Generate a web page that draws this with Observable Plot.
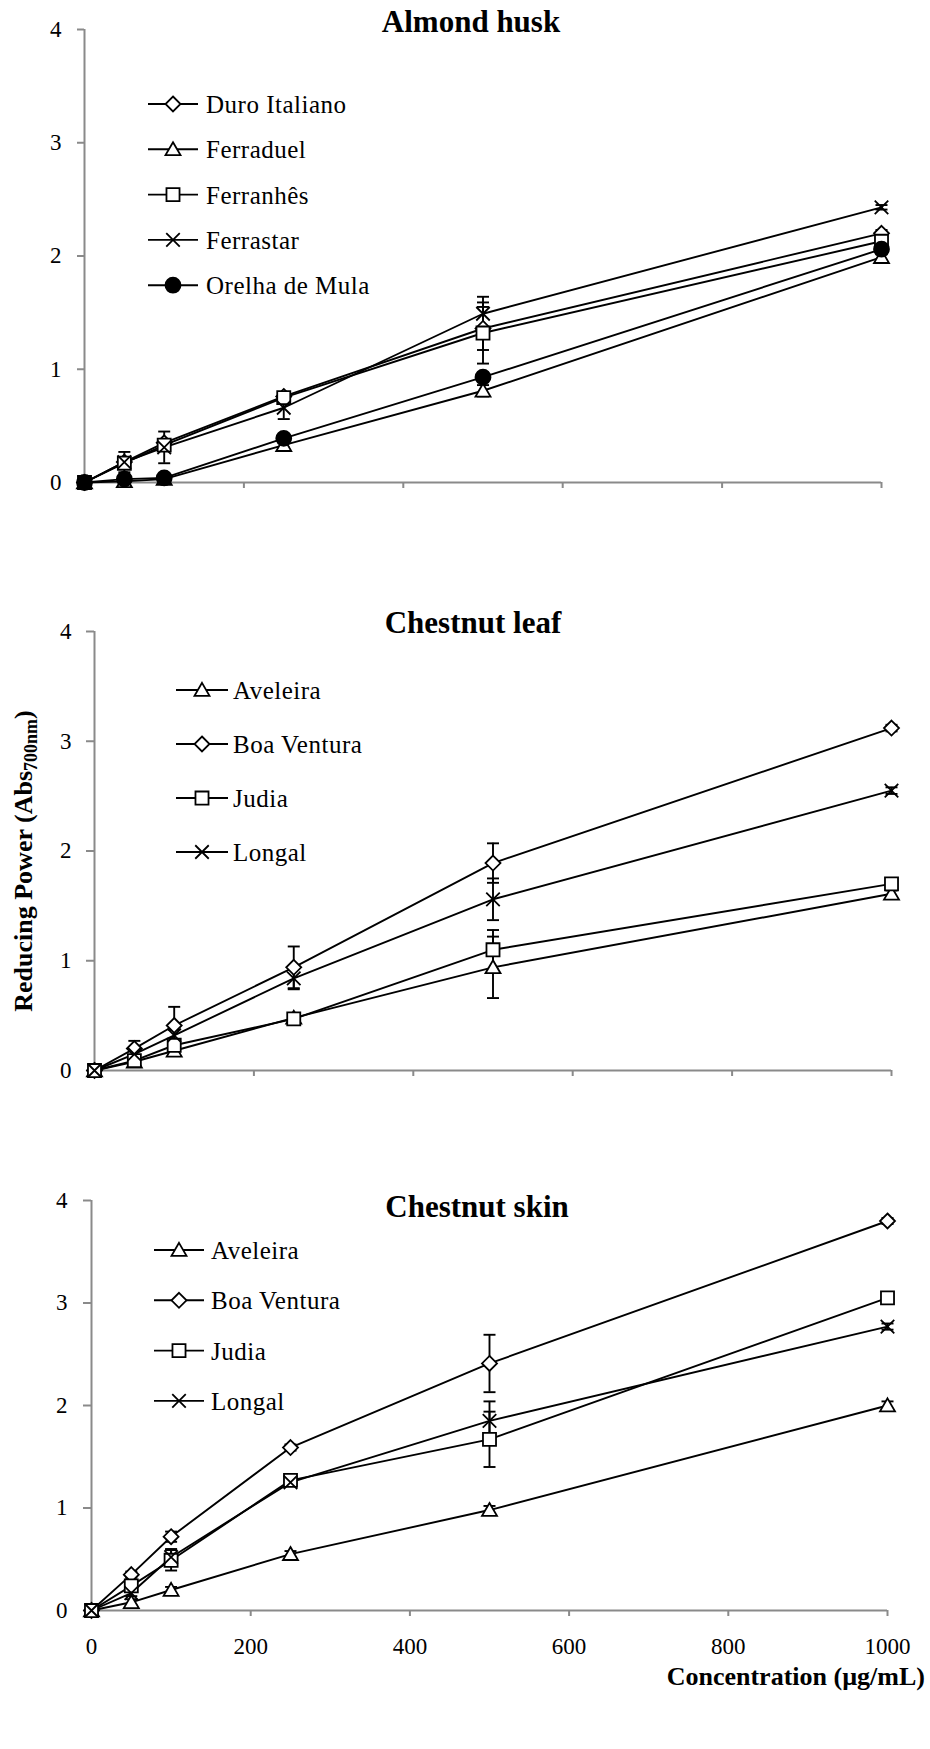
<!DOCTYPE html>
<html><head><meta charset="utf-8">
<script src="https://cdn.jsdelivr.net/npm/d3@7"></script>
<script src="https://cdn.jsdelivr.net/npm/@observablehq/plot@0.6"></script>
<style>
body{margin:0;background:#fff;}
#page{position:relative;width:930px;height:1749px;background:#fff;overflow:hidden;}
.panel{position:absolute;left:0;}
#overlay{position:absolute;left:0;top:0;pointer-events:none;}
#overlay text{font-family:"Liberation Serif","Times New Roman",serif;}
</style></head><body><div id="page"></div>
<script>
// ---------- data ----------
const conc = [0, 50, 100, 250, 500, 1000];
const xTicks = [0, 200, 400, 600, 800, 1000];
const yTicks = [0, 1, 2, 3, 4];

// Almond husk
const almondTitle = "Almond husk";
const almondNames = ["Duro Italiano", "Ferraduel", "Ferranhês", "Ferrastar", "Orelha de Mula"];
const almondDuroItaliano   = [0, 0.18, 0.35, 0.76, 1.36, 2.20];
const almondDuroItalianoSD = [0, 0.02, 0.03, 0.03, 0.19, 0.03];
const almondFerraduel      = [0, 0.01, 0.03, 0.33, 0.81, 1.99];
const almondFerraduelSD    = [0, 0.01, 0.01, 0.02, 0.05, 0.03];
const almondFerranhes      = [0, 0.17, 0.33, 0.75, 1.32, 2.13];
const almondFerranhesSD    = [0, 0.04, 0.04, 0.03, 0.27, 0.03];
const almondFerrastar      = [0, 0.18, 0.31, 0.66, 1.49, 2.43];
const almondFerrastarSD    = [0, 0.09, 0.14, 0.10, 0.15, 0.02];
const almondOrelha         = [0, 0.03, 0.04, 0.39, 0.93, 2.06];
const almondOrelhaSD       = [0, 0.01, 0.01, 0.02, 0.03, 0.03];

// Chestnut leaf
const leafTitle = "Chestnut leaf";
const leafNames = ["Aveleira", "Boa Ventura", "Judia", "Longal"];
const leafAveleira     = [0, 0.08, 0.18, 0.48, 0.94, 1.61];
const leafAveleiraSD   = [0, 0.01, 0.02, 0.03, 0.28, 0.03];
const leafBoaVentura   = [0, 0.20, 0.41, 0.94, 1.89, 3.12];
const leafBoaVenturaSD = [0, 0.07, 0.17, 0.19, 0.18, 0.03];
const leafJudia        = [0, 0.09, 0.23, 0.47, 1.10, 1.70];
const leafJudiaSD      = [0, 0.02, 0.04, 0.03, 0.18, 0.03];
const leafLongal       = [0, 0.15, 0.32, 0.84, 1.56, 2.55];
const leafLongalSD     = [0, 0.04, 0.05, 0.10, 0.19, 0.03];

// Chestnut skin
const skinTitle = "Chestnut skin";
const skinNames = ["Aveleira", "Boa Ventura", "Judia", "Longal"];
const skinAveleira     = [0, 0.08, 0.20, 0.55, 0.98, 2.00];
const skinAveleiraSD   = [0, 0.03, 0.03, 0.03, 0.04, 0.04];
const skinBoaVentura   = [0, 0.35, 0.72, 1.59, 2.41, 3.80];
const skinBoaVenturaSD = [0, 0.03, 0.05, 0.03, 0.28, 0.03];
const skinJudia        = [0, 0.24, 0.49, 1.27, 1.67, 3.05];
const skinJudiaSD      = [0, 0.03, 0.10, 0.04, 0.27, 0.05];
const skinLongal       = [0, 0.17, 0.52, 1.25, 1.85, 2.77];
const skinLongalSD     = [0, 0.03, 0.08, 0.03, 0.19, 0.03];

const yLabelMain = "Reducing Power (Abs";
const yLabelSub = "700nm";
const yLabelEnd = ")";
const xLabel = "Concentration (µg/mL)";

// ---------- symbols ----------
const rad = size => Math.sqrt(size / Math.PI);
const symDiamond = {draw(c, s){const r = rad(s); c.moveTo(0,-r); c.lineTo(r,0); c.lineTo(0,r); c.lineTo(-r,0); c.closePath();}};
const symSquare = {draw(c, s){const r = rad(s)*0.87; c.moveTo(-r,-r); c.lineTo(r,-r); c.lineTo(r,r); c.lineTo(-r,r); c.closePath();}};
const symTriangle = {draw(c, s){const r = rad(s); c.moveTo(0,-r*0.95); c.lineTo(r,r*0.78); c.lineTo(-r,r*0.78); c.closePath();}};
const symTimes = {draw(c, s){const r = rad(s)*0.9; c.moveTo(-r,-r); c.lineTo(r,r); c.moveTo(r,-r); c.lineTo(-r,r);}};
const symCircle = {draw(c, s){const r = rad(s); c.moveTo(r,0); c.arc(0,0,r,0,2*Math.PI); c.closePath();}};
const symCap = {draw(c, s){const r = rad(s); c.moveTo(-r,0); c.lineTo(r,0);}};

const styleOf = {
  "Duro Italiano": {symbol: symDiamond, fill: "white"},
  "Ferraduel": {symbol: symTriangle, fill: "white"},
  "Ferranhês": {symbol: symSquare, fill: "white"},
  "Ferrastar": {symbol: symTimes, fill: "none"},
  "Orelha de Mula": {symbol: symCircle, fill: "black"},
  "Aveleira": {symbol: symTriangle, fill: "white"},
  "Boa Ventura": {symbol: symDiamond, fill: "white"},
  "Judia": {symbol: symSquare, fill: "white"},
  "Longal": {symbol: symTimes, fill: "none"}
};

const panels = [
  {title: almondTitle, names: almondNames,
   values: [almondDuroItaliano, almondFerraduel, almondFerranhes, almondFerrastar, almondOrelha],
   sds: [almondDuroItalianoSD, almondFerraduelSD, almondFerranhesSD, almondFerrastarSD, almondOrelhaSD],
   top: 0, height: 500, mt: 29, mb: 18, ml: 84, mr: 49, ytick: 7, ypad: 16, xlabels: false,
   titleX: 471, titleY: 32,
   leg: {x0: 148, x1: 198, tx: 206, y0: 104, dy: 45.3}},
  {title: leafTitle, names: leafNames,
   values: [leafAveleira, leafBoaVentura, leafJudia, leafLongal],
   sds: [leafAveleiraSD, leafBoaVenturaSD, leafJudiaSD, leafLongalSD],
   top: 600, height: 488, mt: 31, mb: 18, ml: 94, mr: 39, ytick: 8, ypad: 15, xlabels: false,
   titleX: 473, titleY: 633,
   leg: {x0: 176, x1: 228, tx: 233, y0: 690, dy: 54}},
  {title: skinTitle, names: skinNames,
   values: [skinAveleira, skinBoaVentura, skinJudia, skinLongal],
   sds: [skinAveleiraSD, skinBoaVenturaSD, skinJudiaSD, skinLongalSD],
   top: 1170, height: 579, mt: 30, mb: 139, ml: 91, mr: 43, ytick: 8, ypad: 16, xlabels: true,
   titleX: 477, titleY: 1217,
   leg: {x0: 154, x1: 204, tx: 211, y0: 1250, dy: 50.3}}
];

const gray = "#8a8a8a";
const FONT = "'Liberation Serif', 'Times New Roman', serif";
const page = document.getElementById("page");

for (const p of panels) {
  const rows = [];
  p.names.forEach((n, k) => p.values[k].forEach((v, i) => rows.push({series: n, x: conc[i], y: v, sd: p.sds[k][i]})));
  const err = rows.filter(d => d.sd > 0);
  const marks = [
    Plot.ruleY([0], {stroke: gray, strokeWidth: 2}),
    Plot.ruleX([0], {stroke: gray, strokeWidth: 2}),
    Plot.axisY({ticks: yTicks, tickSize: p.ytick, tickPadding: p.ypad, stroke: gray, strokeWidth: 2, color: "black", fill: "black", fontSize: 23, label: null, tickFormat: d => String(d)}),
    Plot.axisX({ticks: xTicks, tickSize: 6, tickPadding: 21, stroke: gray, strokeWidth: 2, color: "black", fill: "black", fontSize: 23, label: null, tickFormat: p.xlabels ? (d => String(d)) : (() => "")}),
    Plot.line(rows, {x: "x", y: "y", z: "series", stroke: "black", strokeWidth: 1.9}),
    Plot.ruleX(err, {x: "x", y1: d => d.y - d.sd, y2: d => d.y + d.sd, stroke: "black", strokeWidth: 1.9}),
    Plot.dot(err, {x: "x", y: d => d.y + d.sd, symbol: symCap, r: 6, stroke: "black", strokeWidth: 1.9}),
    Plot.dot(err, {x: "x", y: d => d.y - d.sd, symbol: symCap, r: 6, stroke: "black", strokeWidth: 1.9}),
    ...p.names.map(n => Plot.dot(rows.filter(d => d.series === n), {x: "x", y: "y", symbol: styleOf[n].symbol, r: 7.5, fill: styleOf[n].fill, stroke: "black", strokeWidth: 1.8}))
  ];
  const chart = Plot.plot({
    width: 930, height: p.height,
    marginTop: p.mt, marginBottom: p.mb, marginLeft: p.ml, marginRight: p.mr,
    x: {domain: [0, 1000]}, y: {domain: [0, 4]},
    style: {fontFamily: FONT, fontSize: "23px", background: "transparent", overflow: "visible", color: "black"},
    marks
  });
  chart.classList.add("panel");
  chart.style.top = p.top + "px";
  page.appendChild(chart);
}

// ---------- overlay: titles, axis labels, legends ----------
const ov = d3.select(page).append("svg").attr("id", "overlay").attr("width", 930).attr("height", 1749)
  .attr("font-family", FONT);

for (const p of panels) {
  ov.append("text").attr("x", p.titleX).attr("y", p.titleY).attr("text-anchor", "middle")
    .attr("font-family", FONT).attr("font-weight", "bold").attr("font-size", 31).text(p.title);
  p.names.forEach((n, i) => {
    const y = p.leg.y0 + i * p.leg.dy;
    const g = ov.append("g");
    g.append("line").attr("x1", p.leg.x0).attr("x2", p.leg.x1).attr("y1", y).attr("y2", y)
      .attr("stroke", "black").attr("stroke-width", 1.9);
    g.append("path").attr("transform", `translate(${(p.leg.x0 + p.leg.x1) / 2},${y})`)
      .attr("d", d3.symbol(styleOf[n].symbol, Math.PI * 7.5 * 7.5)())
      .attr("fill", styleOf[n].fill).attr("stroke", "black").attr("stroke-width", 1.8);
    g.append("text").attr("x", p.leg.tx).attr("y", y + 9).attr("font-family", FONT)
      .attr("font-size", 25).attr("letter-spacing", 0.5).text(n);
  });
}

const yl = ov.append("text").attr("transform", "translate(32,861) rotate(-90)")
  .attr("text-anchor", "middle").attr("font-family", FONT).attr("font-weight", "bold").attr("font-size", 26);
yl.append("tspan").text(yLabelMain);
yl.append("tspan").attr("font-size", 18).attr("dy", 5).text(yLabelSub);
yl.append("tspan").attr("dy", -5).text(yLabelEnd);

ov.append("text").attr("x", 925).attr("y", 1685).attr("text-anchor", "end")
  .attr("font-family", FONT).attr("font-weight", "bold").attr("font-size", 26).text(xLabel);
</script>
</body></html>
